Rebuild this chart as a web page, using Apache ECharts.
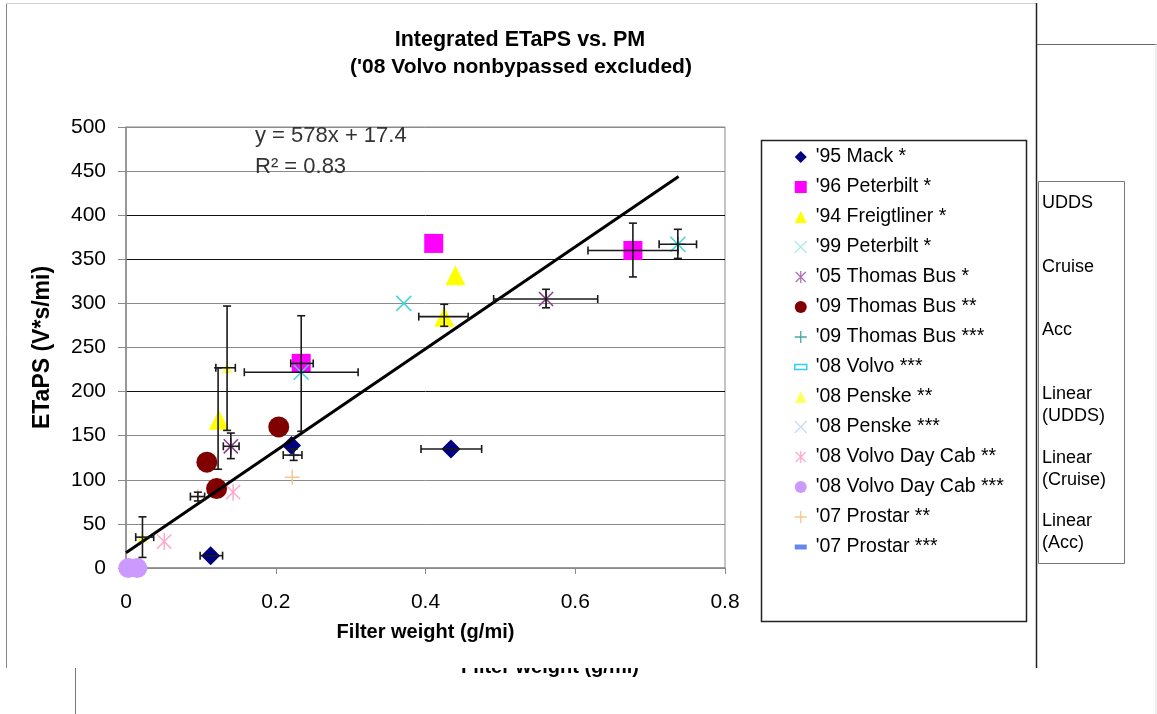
<!DOCTYPE html>
<html>
<head>
<meta charset="utf-8">
<script src="https://cdn.jsdelivr.net/npm/echarts@6/dist/echarts.min.js"></script>
<style>
html,body{margin:0;padding:0;background:#fff;}
#chart{width:1157px;height:714px;}
</style>
</head>
<body>
<div id="chart"></div>
<script>
// ---- data ----
const titleLines = ["Integrated ETaPS vs. PM", "('08 Volvo nonbypassed excluded)"];
const xAxisName = "Filter weight (g/mi)";
const yAxisName = "ETaPS (V*s/mi)";
const xTicks = [0, 0.2, 0.4, 0.6, 0.8];
const yTicks = [0, 50, 100, 150, 200, 250, 300, 350, 400, 450, 500];

const seriesNames = ["'95 Mack *", "'96 Peterbilt *", "'94 Freigtliner *", "'99 Peterbilt *",
  "'05 Thomas Bus *", "'09 Thomas Bus **", "'09 Thomas Bus ***", "'08 Volvo ***",
  "'08 Penske **", "'08 Penske ***", "'08 Volvo Day Cab **", "'08 Volvo Day Cab ***",
  "'07 Prostar **", "'07 Prostar ***"];

const mack95 = [[0.113, 14], [0.221, 139], [0.434, 135]];
const peterbilt96 = [[0.234, 232], [0.411, 368], [0.677, 360]];
const freightliner94 = [[0.124, 168], [0.440, 332], [0.425, 285]];
const peterbilt99 = [[0.234, 222], [0.371, 300], [0.737, 367]];
const thomasBus05 = [[0.140, 138], [0.561, 305]];
const thomasBus09a = [[0.108, 120], [0.121, 90], [0.204, 160]];
const thomasBus09b = [[0.737, 367]];
const volvo08 = [[0.019, 0]];
const penske08a = [[0.135, 227], [0.022, 35]];
const penske08b = [];
const volvoDayCab08a = [[0.051, 30], [0.143, 86]];
const volvoDayCab08b = [[0.003, 0], [0.015, 0]];
const prostar07a = [[0.096, 81], [0.222, 103]];
const prostar07b = [[0.224, 128]];

// [x, y, xLow, xHigh, yLow, yHigh]
const errorBars = [
  [0.113, 14, 0.099, 0.129, null, null],
  [0.434, 135, 0.394, 0.475, null, null],
  [0.234, 232, 0.220, 0.250, 155, 286],
  [0.677, 360, 0.617, 0.737, 330, 391],
  [0.123, 168, null, null, 112, 227],
  [0.425, 285, 0.391, 0.457, 274, 299],
  [0.135, 227, 0.120, 0.146, 156, 297],
  [0.022, 35, 0.013, 0.037, 12, 58],
  [0.234, 222, 0.158, 0.310, null, null],
  [0.737, 367, 0.712, 0.762, 351, 384],
  [0.140, 138, 0.130, 0.151, 124, 153],
  [0.561, 305, 0.491, 0.630, 295, 316],
  [0.096, 81, 0.086, 0.105, 76, 86],
  [0.224, 128, 0.210, 0.235, 122, 135]
];

const trendSlope = 578;
const trendIntercept = 17.4;
const trendRange = [0, 0.738];
const equationText = ["y = 578x + 17.4", "R\u00B2 = 0.83"];
const sideLegend = ["UDDS", "Cruise", "Acc", "Linear\n(UDDS)", "Linear\n(Cruise)", "Linear\n(Acc)"];

// ---- styling ----
const FONT = "'Liberation Sans', Arial, sans-serif";
const P_X = 'path://M0,0L10,10M10,0L0,10';
const P_AST = 'path://M0,0L10,10M10,0L0,10M5,-1L5,11';
const P_PLUS = 'path://M5,0L5,10M0,5L10,5';
const P_DASH = 'path://M0,0L12,0L12,5L0,5Z';

function stroked(color, w) { return { color: 'rgba(0,0,0,0)', borderColor: color, borderWidth: w, opacity: 1 }; }

const seriesDefs = [
  { data: mack95, symbol: 'diamond', size: 19, itemStyle: { color: '#000080', opacity: 1 } },
  { data: peterbilt96, symbol: 'rect', size: 19, itemStyle: { color: '#ff00ff', opacity: 1 } },
  { data: freightliner94, symbol: 'triangle', size: 20, itemStyle: { color: '#ffff00', opacity: 1 } },
  { data: peterbilt99, symbol: P_X, size: 15, itemStyle: stroked('#44d4d8', 1.5), legendColor: '#a8ecec' },
  { data: thomasBus05, symbol: P_AST, size: 17, itemStyle: stroked('#8a3a8a', 1.5), legendColor: '#b070b8' },
  { data: thomasBus09a, symbol: 'circle', size: 21, itemStyle: { color: '#800000', opacity: 1 } },
  { data: thomasBus09b, symbol: P_PLUS, size: 15, itemStyle: stroked('#2a9a9a', 1.5), legendColor: '#4aa8a0' },
  { data: volvo08, symbol: P_DASH, size: [12, 6], itemStyle: { color: '#ffffff', borderColor: '#33bbff', borderWidth: 1.5, opacity: 1 }, legendColor: '#33ccff' },
  { data: penske08a, symbol: 'triangle', size: 11, itemStyle: { color: '#ffff66', opacity: 1 } },
  { data: penske08b, symbol: P_X, size: 15, itemStyle: stroked('#c8dcf0', 1.5), legendColor: '#c8dcf0' },
  { data: volvoDayCab08a, symbol: P_AST, size: 17, itemStyle: stroked('#ffaacc', 1.5), legendColor: '#ffaacc' },
  { data: volvoDayCab08b, symbol: 'circle', size: 20, itemStyle: { color: '#cc99ff', opacity: 1 } },
  { data: prostar07a, symbol: P_PLUS, size: 15, itemStyle: stroked('#f5c890', 1.5), legendColor: '#f5c890' },
  { data: prostar07b, symbol: P_DASH, size: [10, 5], itemStyle: { color: '#6688ee', opacity: 1 } }
];

const series = seriesDefs.map((d, i) => ({
  name: seriesNames[i],
  type: 'scatter',
  data: d.data,
  symbol: d.symbol,
  symbolSize: d.size,
  symbolKeepAspect: true,
  itemStyle: d.itemStyle,
  clip: false,
  z: 2,
  emphasis: { disabled: true }
}));

series.push({
  name: 'trend',
  type: 'line',
  data: trendRange.map(x => [x, trendSlope * x + trendIntercept]),
  showSymbol: false,
  symbol: 'none',
  lineStyle: { color: '#000', width: 3 },
  z: 3,
  silent: true
});

series.push({
  name: 'errors',
  type: 'custom',
  data: errorBars,
  encode: { x: 0, y: 1 },
  clip: false,
  z: 4,
  silent: true,
  renderItem: function (params, api) {
    const x = api.value(0), y = api.value(1);
    const xl = api.value(2), xh = api.value(3), yl = api.value(4), yh = api.value(5);
    const st = { stroke: '#1a1a1a', lineWidth: 1.6 };
    const ch = [];
    const cap = 4;
    const ok = v => v !== null && v !== undefined && !isNaN(v);
    if (ok(xl) && ok(xh)) {
      const a = api.coord([xl, y]), b = api.coord([xh, y]);
      ch.push({ type: 'line', shape: { x1: a[0], y1: a[1], x2: b[0], y2: b[1] }, style: st });
      ch.push({ type: 'line', shape: { x1: a[0], y1: a[1] - cap, x2: a[0], y2: a[1] + cap }, style: st });
      ch.push({ type: 'line', shape: { x1: b[0], y1: b[1] - cap, x2: b[0], y2: b[1] + cap }, style: st });
    }
    if (ok(yl) && ok(yh)) {
      const a = api.coord([x, yl]), b = api.coord([x, yh]);
      ch.push({ type: 'line', shape: { x1: a[0], y1: a[1], x2: b[0], y2: b[1] }, style: st });
      ch.push({ type: 'line', shape: { x1: a[0] - cap, y1: a[1], x2: a[0] + cap, y2: a[1] }, style: st });
      ch.push({ type: 'line', shape: { x1: b[0] - cap, y1: b[1], x2: b[0] + cap, y2: b[1] }, style: st });
    }
    return { type: 'group', children: ch };
  }
});

const legendData = seriesDefs.map((d, i) => {
  const item = { name: seriesNames[i] };
  if (typeof d.symbol === 'string' && d.symbol.indexOf('path://') === 0 && d.itemStyle.color === 'rgba(0,0,0,0)') {
    item.icon = d.symbol;
    item.itemStyle = { color: 'rgba(0,0,0,0)', borderColor: d.legendColor, borderWidth: 1.3, opacity: 1 };
  } else if (d.symbol === P_DASH) {
    item.icon = P_DASH;
    item.itemStyle = d.legendColor ? { color: '#fff', borderColor: d.legendColor, borderWidth: 1.5, opacity: 1 } : { color: d.itemStyle.color, opacity: 1 };
  } else {
    item.icon = d.symbol;
    item.itemStyle = { color: d.itemStyle.color, opacity: 1, borderWidth: 0 };
  }
  return item;
});

const gridSplitColors = ['#8a8a8a', '#8a8a8a', '#8a8a8a', '#8a8a8a', '#111', '#8a8a8a', '#8a8a8a', '#111', '#111', '#8a8a8a', '#8a8a8a'];

const graphic = [
  // frame artefacts of the pasted figure
  { type: 'line', shape: { x1: 6.5, y1: 3, x2: 6.5, y2: 668 }, style: { stroke: '#888', lineWidth: 1 }, z: 1 },
  { type: 'line', shape: { x1: 6, y1: 3.5, x2: 1036, y2: 3.5 }, style: { stroke: '#d0d0d0', lineWidth: 1 }, z: 1 },
  { type: 'line', shape: { x1: 1036.5, y1: 3, x2: 1036.5, y2: 668 }, style: { stroke: '#222', lineWidth: 1.5 }, z: 1 },
  { type: 'line', shape: { x1: 1037, y1: 44.5, x2: 1157, y2: 44.5 }, style: { stroke: '#666', lineWidth: 1 }, z: 1 },
  { type: 'line', shape: { x1: 1156, y1: 44, x2: 1156, y2: 714 }, style: { stroke: '#ddd', lineWidth: 1 }, z: 1 },
  { type: 'line', shape: { x1: 75.5, y1: 668, x2: 75.5, y2: 714 }, style: { stroke: '#777', lineWidth: 1 }, z: 1 },
  // main legend box
  { type: 'rect', shape: { x: 761.5, y: 140.5, width: 265, height: 481 }, style: { fill: 'none', stroke: '#222', lineWidth: 1.5 }, z: 1 },
  // side legend box
  { type: 'rect', shape: { x: 1038.5, y: 181.5, width: 86, height: 382 }, style: { fill: 'none', stroke: '#777', lineWidth: 1 }, z: 1 },
  // title
  { type: 'text', x: 520, y: 40, style: { text: titleLines[0], font: "bold 21.5px " + FONT, fill: '#000', align: 'center', verticalAlign: 'middle' }, z: 5 },
  { type: 'text', x: 521, y: 67, style: { text: titleLines[1], font: "bold 21px " + FONT, fill: '#000', align: 'center', verticalAlign: 'middle' }, z: 5 },
  // trend equation
  { type: 'text', x: 255, y: 136, style: { text: equationText[0], font: "22px " + FONT, fill: '#333', align: 'left', verticalAlign: 'middle' }, z: 5 },
  { type: 'text', x: 255, y: 167, style: { text: equationText[1], font: "22px " + FONT, fill: '#333', align: 'left', verticalAlign: 'middle' }, z: 5 },
  // clipped axis title of the lower pasted figure
  { type: 'text', x: 550, y: 667, style: { text: xAxisName, font: "bold 20px " + FONT, fill: '#000', align: 'center', verticalAlign: 'middle' }, z: 5 },
  { type: 'rect', shape: { x: 430, y: 645, width: 240, height: 23 }, style: { fill: '#fff' }, z: 6 }
];

const sideY = [203, 267, 330, 405, 469, 532];
sideLegend.forEach((t, i) => {
  graphic.push({ type: 'text', x: 1042, y: sideY[i], style: { text: t, font: "18px " + FONT, fill: '#000', align: 'left', verticalAlign: 'middle', lineHeight: 22 }, z: 5 });
});

const option = {
  animation: false,
  backgroundColor: '#fff',
  grid: { left: 126, right: 432, top: 127, bottom: 146, show: true, borderColor: '#8a8a8a', borderWidth: 1, backgroundColor: 'transparent' },
  xAxis: {
    type: 'value', min: xTicks[0], max: xTicks[xTicks.length - 1], interval: 0.2,
    name: xAxisName, nameLocation: 'middle', nameGap: 54,
    nameTextStyle: { fontFamily: FONT, fontWeight: 'bold', fontSize: 20, color: '#000' },
    axisLine: { show: true, lineStyle: { color: '#8a8a8a', width: 1.5 } },
    axisTick: { show: true, inside: false, length: 6, lineStyle: { color: '#8a8a8a' } },
    axisLabel: { margin: 24, fontFamily: FONT, fontSize: 21, color: '#000', formatter: v => String(v) },
    splitLine: { show: false }
  },
  yAxis: {
    type: 'value', min: yTicks[0], max: yTicks[yTicks.length - 1], interval: 50,
    name: yAxisName, nameLocation: 'middle', nameGap: 72, nameRotate: 90,
    nameTextStyle: { fontFamily: FONT, fontWeight: 'bold', fontSize: 23, color: '#000' },
    axisLine: { show: true, lineStyle: { color: '#8a8a8a', width: 1.5 } },
    axisTick: { show: true, inside: false, length: 8, lineStyle: { color: '#8a8a8a' } },
    axisLabel: { margin: 20, fontFamily: FONT, fontSize: 21, color: '#000' },
    splitLine: { show: true, lineStyle: { color: gridSplitColors, width: 1 } }
  },
  legend: {
    orient: 'vertical', left: 789, top: 141,
    itemWidth: 12, itemHeight: 12, itemGap: 8,
    selectedMode: false,
    textStyle: { fontFamily: FONT, fontSize: 19.5, color: '#000', lineHeight: 22, padding: [0, 0, 0, 4] },
    data: legendData
  },
  graphic: graphic,
  series: series
};

const chart = echarts.init(document.getElementById('chart'), null, { renderer: 'canvas' });
chart.setOption(option);
</script>
</body>
</html>
